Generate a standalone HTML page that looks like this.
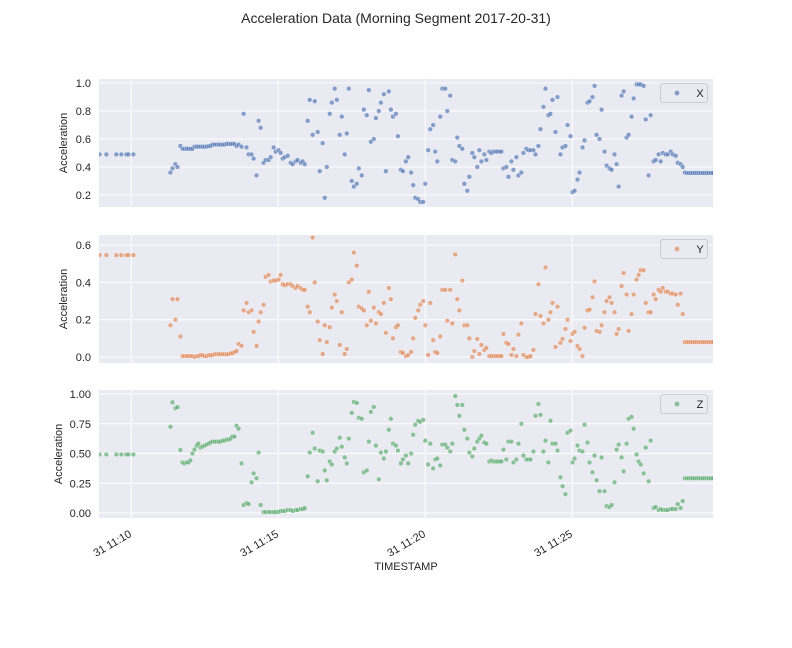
<!DOCTYPE html>
<html><head><meta charset="utf-8"><style>
body{margin:0;background:#fff;}
svg{display:block;font-family:"Liberation Sans","DejaVu Sans",sans-serif;}
</style></head><body>
<svg id="chart" width="792" height="648" viewBox="0 0 792 648">
<text x="396" y="23" text-anchor="middle" font-size="14" fill="#262626">Acceleration Data (Morning Segment 2017-20-31)</text>
</svg>
<script>
const times=[8.92,9.15,9.49,9.66,9.83,9.90,10.07,
11.33,11.40,11.50,11.57,11.67,11.74,11.81,11.88,11.94,12.01,12.08,12.15,12.22,12.28,12.35,12.42,12.49,12.56,12.63,12.69,12.76,12.83,12.90,12.97,13.03,13.10,13.17,13.24,13.31,13.38,13.44,13.51,13.58,13.65,13.75,13.82,13.92,13.99,14.09,14.16,14.26,14.33,14.40,14.50,14.57,14.67,14.74,14.84,14.91,15.01,15.08,15.15,15.22,15.32,15.42,15.49,15.59,15.66,15.76,15.83,15.90,16.00,16.07,16.17,16.24,16.34,16.41,16.51,16.58,16.65,16.75,16.82,16.92,16.99,17.09,17.16,17.26,17.33,17.40,17.50,17.57,17.67,17.74,17.84,17.91,18.01,18.08,18.15,18.25,18.32,18.42,18.49,18.59,18.66,18.76,18.83,18.90,19.00,19.07,19.17,19.24,19.34,
19.42,19.52,19.59,19.66,19.76,19.83,19.93,20.00,20.10,20.17,20.27,20.34,20.41,20.51,20.58,20.68,20.75,20.85,20.92,21.02,21.09,21.16,21.26,21.33,21.43,21.50,21.60,21.67,21.77,21.84,21.91,22.01,22.08,22.18,22.25,22.32,22.39,22.45,22.52,22.59,22.66,22.76,22.83,22.93,23.00,23.10,23.17,23.27,23.34,23.44,23.51,23.58,23.68,23.75,23.85,23.92,24.02,24.09,24.19,24.26,24.33,24.43,24.50,24.60,24.67,24.77,24.84,24.94,25.01,25.08,25.18,25.25,25.35,25.42,25.52,25.59,25.69,25.76,25.83,25.93,26.00,26.10,26.17,26.27,26.34,26.44,26.51,26.58,26.68,26.75,26.85,26.92,27.02,27.09,27.19,27.26,27.33,27.43,27.50,27.60,27.67,27.77,27.84,27.94,28.01,28.08,28.18,28.25,28.35,28.42,28.52,28.59,28.69,28.76,28.83,
28.90,28.97,29.04,29.10,29.17,29.24,29.31,29.38,29.44,29.51,29.58,29.65,29.72,29.79];
const xValues=[0.49,0.49,0.49,0.49,0.49,0.49,0.49,
0.36,0.39,0.42,0.40,0.55,0.53,0.53,0.53,0.53,0.53,0.53,0.545,0.545,0.545,0.545,0.545,0.545,0.545,0.55,0.55,0.56,0.56,0.56,0.56,0.56,0.56,0.56,0.565,0.565,0.565,0.565,0.565,0.55,0.56,0.545,0.78,0.54,0.49,0.49,0.46,0.34,0.73,0.68,0.43,0.45,0.45,0.47,0.54,0.51,0.52,0.50,0.46,0.47,0.48,0.43,0.42,0.44,0.45,0.43,0.44,0.42,0.73,0.88,0.63,0.87,0.65,0.37,0.57,0.18,0.40,0.78,0.86,0.96,0.88,0.63,0.76,0.49,0.64,0.96,0.30,0.26,0.28,0.39,0.34,0.81,0.77,0.95,0.58,0.60,0.75,0.80,0.86,0.92,0.37,0.94,0.81,0.76,0.78,0.62,0.38,0.37,0.44,
0.47,0.36,0.27,0.18,0.17,0.15,0.15,0.28,0.52,0.67,0.70,0.51,0.44,0.76,0.96,0.96,0.80,0.91,0.45,0.44,0.61,0.55,0.53,0.28,0.23,0.33,0.50,0.47,0.40,0.52,0.44,0.49,0.45,0.51,0.50,0.51,0.51,0.51,0.51,0.51,0.39,0.40,0.33,0.44,0.38,0.47,0.34,0.36,0.50,0.53,0.52,0.52,0.52,0.49,0.55,0.67,0.83,0.96,0.77,0.78,0.88,0.65,0.90,0.49,0.54,0.55,0.70,0.62,0.22,0.23,0.31,0.36,0.54,0.59,0.86,0.87,0.90,0.98,0.63,0.60,0.81,0.51,0.41,0.39,0.38,0.49,0.42,0.26,0.91,0.94,0.61,0.63,0.76,0.89,0.99,0.99,0.99,0.98,0.74,0.34,0.77,0.44,0.45,0.49,0.44,0.50,0.49,0.49,0.51,0.49,0.48,0.43,0.42,0.40,0.36,
0.357,0.357,0.357,0.357,0.357,0.357,0.357,0.357,0.357,0.357,0.357,0.357,0.357,0.357];
const yValues=[0.546,0.546,0.546,0.546,0.546,0.546,0.546,
0.17,0.31,0.20,0.31,0.11,0.005,0.005,0.005,0.005,0.005,0.005,0,0.005,0.005,0.01,0.01,0.005,0.005,0.01,0.01,0.01,0.015,0.015,0.015,0.015,0.015,0.015,0.015,0.015,0.02,0.02,0.027,0.032,0.07,0.06,0.25,0.29,0.24,0.25,0.135,0.06,0.19,0.24,0.28,0.43,0.44,0.405,0.41,0.41,0.415,0.44,0.39,0.385,0.39,0.39,0.38,0.37,0.38,0.37,0.36,0.36,0.27,0.24,0.64,0.40,0.19,0.09,0.016,0.17,0.08,0.16,0.265,0.335,0.30,0.065,0.24,0.016,0.043,0.40,0.415,0.56,0.49,0.27,0.26,0.25,0.17,0.35,0.195,0.265,0.18,0.24,0.23,0.29,0.13,0.37,0.31,0.10,0.16,0.17,0.027,0.022,0.005,
0.011,0.027,0.10,0.21,0.25,0.28,0.30,0.17,0.011,0.29,0.09,0.027,0.022,0.11,0.36,0.36,0.195,0.36,0.18,0.55,0.31,0.25,0.41,0.17,0.17,0.10,0,0.032,0.097,0.016,0.065,0.038,0.049,0.005,0.005,0.005,0.005,0.005,0.005,0.005,0.124,0.076,0.07,0.011,0.043,0.005,0.12,0.18,0.011,0,0,0.005,0.038,0.23,0.39,0.22,0.18,0.48,0.20,0.24,0.29,0.054,0.27,0.076,0.097,0.15,0.20,0.086,0.124,0.135,0.059,0.043,0.005,0.157,0.25,0.254,0.32,0.405,0.14,0.135,0.17,0.24,0.30,0.32,0.29,0.24,0.124,0.15,0.38,0.45,0.335,0.14,0.23,0.335,0.415,0.44,0.465,0.465,0.29,0.24,0.24,0.335,0.31,0.36,0.35,0.37,0.35,0.35,0.34,0.34,0.335,0.28,0.34,0.23,0.08,
0.08,0.08,0.08,0.08,0.08,0.08,0.08,0.08,0.08,0.08,0.08,0.08,0.08,0.08];
const zValues=[0.492,0.492,0.492,0.492,0.492,0.492,0.492,
0.725,0.93,0.88,0.89,0.53,0.425,0.417,0.425,0.425,0.442,0.50,0.533,0.567,0.583,0.55,0.558,0.567,0.575,0.583,0.592,0.60,0.60,0.60,0.60,0.60,0.608,0.608,0.617,0.617,0.625,0.642,0.642,0.733,0.708,0.417,0.067,0.083,0.075,0.258,0.333,0.292,0.508,0.067,0.008,0.008,0.008,0.008,0.008,0.008,0.008,0.017,0.017,0.017,0.025,0.025,0.017,0.025,0.025,0.033,0.033,0.04,0.308,0.508,0.675,0.542,0.267,0.525,0.517,0.358,0.275,0.433,0.408,0.517,0.542,0.633,0.558,0.467,0.417,0.625,0.842,0.933,0.925,0.80,0.792,0.342,0.358,0.60,0.85,0.892,0.567,0.283,0.508,0.458,0.517,0.70,0.792,0.583,0.567,0.525,0.417,0.45,0.483,
0.417,0.50,0.658,0.742,0.775,0.767,0.783,0.608,0.408,0.583,0.375,0.45,0.458,0.40,0.575,0.575,0.55,0.517,0.583,0.983,0.908,0.817,0.908,0.70,0.625,0.508,0.475,0.542,0.60,0.625,0.65,0.592,0.583,0.433,0.442,0.433,0.433,0.433,0.433,0.433,0.533,0.45,0.60,0.60,0.425,0.45,0.583,0.75,0.483,0.45,0.45,0.45,0.517,0.817,0.917,0.825,0.517,0.608,0.425,0.775,0.583,0.583,0.525,0.30,0.225,0.158,0.675,0.692,0.425,0.458,0.567,0.525,0.517,0.742,0.592,0.425,0.342,0.483,0.275,0.183,0.467,0.183,0.058,0.05,0.067,0.258,0.533,0.575,0.467,0.35,0.583,0.792,0.808,0.708,0.492,0.433,0.408,0.333,0.55,0.267,0.608,0.042,0.05,0.025,0.033,0.025,0.025,0.025,0.033,0.033,0.033,0.075,0.042,0.10,0.292,
0.292,0.292,0.292,0.292,0.292,0.292,0.292,0.292,0.292,0.292,0.292,0.292,0.292,0.292];
const xTickValues=[10,15,20,25];
const xTickLabels=["31 11:10","31 11:15","31 11:20","31 11:25"];
const yTicksX=[0.2,0.4,0.6,0.8,1.0];
const yTicksY=[0.0,0.2,0.4,0.6];
const yTicksZ=[0.00,0.25,0.50,0.75,1.00];

const NS="http://www.w3.org/2000/svg";
const svg=document.getElementById('chart');
function mk(tag,attrs,parent){const e=document.createElementNS(NS,tag);for(const k in attrs)e.setAttribute(k,attrs[k]);(parent||svg).appendChild(e);return e;}
const L=99,R=713;
const tMin=8.90,tMax=29.79;
function sx(t){return L+(t-tMin)/(tMax-tMin)*(R-L);}
const defs=mk('defs',{});

const panels=[
 {name:'x',label:'X',vals:xValues,ticks:yTicksX,dec:1,top:79,bot:207,vmin:0.114,vmax:1.029,color:'#4c72b0'},
 {name:'y',label:'Y',vals:yValues,ticks:yTicksY,dec:1,top:235,bot:363,vmin:-0.032,vmax:0.654,color:'#dd8452'},
 {name:'z',label:'Z',vals:zValues,ticks:yTicksZ,dec:2,top:390,bot:518,vmin:-0.042,vmax:1.034,color:'#55a868'}
];
panels.forEach((p,pi)=>{
 const cp=mk('clipPath',{id:'clip-'+p.name},defs);
 mk('rect',{x:L,y:p.top,width:R-L,height:p.bot-p.top},cp);
 const g=mk('g',{});
 
 
 const sy=v=>p.bot-(v-p.vmin)/(p.vmax-p.vmin)*(p.bot-p.top);
 const bg=mk('rect',{x:L,y:p.top,width:R-L,height:p.bot-p.top,fill:'#eaeaf2'},g);
 
 
 xTickValues.forEach(t=>{
  const ln=mk('line',{x1:sx(t),x2:sx(t),y1:p.top,y2:p.bot,stroke:'#fff','stroke-width':1},g);
  
  
 });
 p.ticks.forEach(v=>{
  const y=sy(v);
  const ln=mk('line',{x1:L,x2:R,y1:y,y2:y,stroke:'#fff','stroke-width':1},g);
  
  
  const tx=mk('text',{x:91,y:y+4,'text-anchor':'end','font-size':11,fill:'#262626'},g);
  tx.textContent=v.toFixed(p.dec);
  
  
 });
 const yl=mk('text',{x:0,y:0,'text-anchor':'middle','font-size':11,fill:'#262626',transform:`translate(${pi==2?62:67},${(p.top+p.bot)/2}) rotate(-90)`},g);
 yl.textContent='Acceleration';
 
 
 const pts=mk('g',{'clip-path':'url(#clip-'+p.name+')'},g);
 
 
 times.forEach((t,i)=>{
  const c=mk('circle',{cx:sx(t),cy:sy(p.vals[i]),r:2.4,fill:p.color,'fill-opacity':0.65,stroke:'#fff','stroke-width':0.4},pts);
  
  
 });
 const lg=mk('g',{},g);
 
 
 mk('rect',{x:660.5,y:p.top+4.5,width:47,height:19,rx:2.5,fill:'#eaeaf2',stroke:'#cccccc','stroke-width':1},lg);
 mk('circle',{cx:677,cy:p.top+14,r:2.4,fill:p.color,'fill-opacity':0.65},lg);
 const lt=mk('text',{x:700,y:p.top+18,'text-anchor':'middle','font-size':11,fill:'#262626'},lg);
 lt.textContent=p.label;
});
xTickValues.forEach((t,i)=>{
 const tx=mk('text',{x:0,y:0,'text-anchor':'end','font-size':11,fill:'#262626',transform:`translate(${sx(t)+1},${536}) rotate(-30)`});
 tx.textContent=xTickLabels[i];
 
 
});
const xl=mk('text',{x:406,y:570,'text-anchor':'middle','font-size':11,fill:'#262626'});
xl.textContent='TIMESTAMP';


</script>
</body></html>
